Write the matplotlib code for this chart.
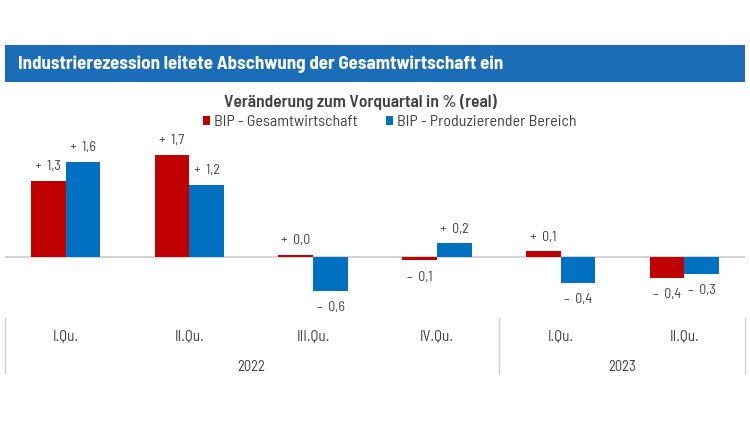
import matplotlib.pyplot as plt
from matplotlib.patches import Rectangle
from matplotlib.lines import Line2D

# daten
quartale = ["I.Qu.", "II.Qu.", "III.Qu.", "IV.Qu.", "I.Qu.", "II.Qu."]
jahre = ["2022", "2023"]
bip_gesamt = [1.29, 1.73, 0.04, -0.06, 0.1, -0.36]
bip_prod = [1.61, 1.22, -0.57, 0.23, -0.44, -0.29]
lab_gesamt = ["+  1,3", "+  1,7", "+  0,0", "\u2013  0,1", "+  0,1", "\u2013  0,4"]
lab_prod = ["+  1,6", "+  1,2", "\u2013  0,6", "+  0,2", "\u2013  0,4", "\u2013  0,3"]

rot = "#c00000"
blau = "#0070c0"
grau = "#404040"
plt.rcParams['font.family'] = ["Barlow Semi Condensed", "Roboto", "DejaVu Sans"]

fig = plt.figure(figsize=(7.5, 4.22), dpi=100)
H = 422.0
W = 750.0

# kopfzeile
fig.patches.append(Rectangle((5 / W, 1 - 82 / H), 740 / W, 37 / H, transform=fig.transFigure,
                             facecolor="#1b6db7", edgecolor="none", zorder=0))
fig.text(18 / W, 1 - 64 / H, "Industrierezession leitete Abschwung der Gesamtwirtschaft ein",
         color="white", fontsize=13.6, fontweight="bold", va="center", ha="left")

fig.text(360.5 / W, 1 - 102 / H, "Veränderung zum Vorquartal in % (real)", color=grau,
         fontsize=12.6, fontweight="semibold", ha="center", va="center")

ax = fig.add_axes([5 / W, 1 - 300 / H, 740 / W, 160 / H])
x = list(range(len(quartale)))
b = 0.28
ax.bar([i - b / 2 for i in x], bip_gesamt, b, color=rot, label="BIP - Gesamtwirtschaft", zorder=3)
ax.bar([i + b / 2 for i in x], bip_prod, b, color=blau, label="BIP - Produzierender Bereich", zorder=3)
ax.axhline(0, color="#cccccc", linewidth=1.2, zorder=2)

for i in x:
    for off, v, t in [(-b / 2, bip_gesamt[i], lab_gesamt[i]), (b / 2, bip_prod[i], lab_prod[i])]:
        if v >= 0:
            ax.annotate(t, (i + off, v), xytext=(0, 10), textcoords="offset points",
                        ha="center", va="center", fontsize=10, color=grau)
        else:
            ax.annotate(t, (i + off, v), xytext=(0, -12), textcoords="offset points",
                        ha="center", va="center", fontsize=10, color=grau)

ax.set_xlim(-0.49, 5.49)
ax.set_ylim(-0.73, 1.98)
ax.axis("off")

# kategorieachse
tr = ax.get_xaxis_transform()
for i in x:
    ax.text(i, -(336 - 300) / 160, quartale[i], transform=tr, ha="center", va="center",
            fontsize=11, color=grau, clip_on=False)
ax.text(1.5, -(367 - 300) / 160, jahre[0], transform=tr, ha="center", va="center",
        fontsize=10.5, color=grau, clip_on=False)
ax.text(4.5, -(367 - 300) / 160, jahre[1], transform=tr, ha="center", va="center",
        fontsize=10.5, color=grau, clip_on=False)
for xs in [-0.49, 3.5, 5.49]:
    ax.add_line(Line2D([xs, xs], [-0.1125, -0.456], transform=tr, color="#d0d0d0",
                       linewidth=1, clip_on=False))

leg = ax.legend(loc="center", bbox_to_anchor=(389.5 / W, 1 - 122 / H), bbox_transform=fig.transFigure,
                ncol=2, frameon=False, fontsize=11.5, handlelength=0.45, handleheight=0.45,
                handletextpad=0.25, columnspacing=1.75, borderpad=0)
for t in leg.get_texts():
    t.set_color(grau)

fig.savefig("out.png", dpi=100)
